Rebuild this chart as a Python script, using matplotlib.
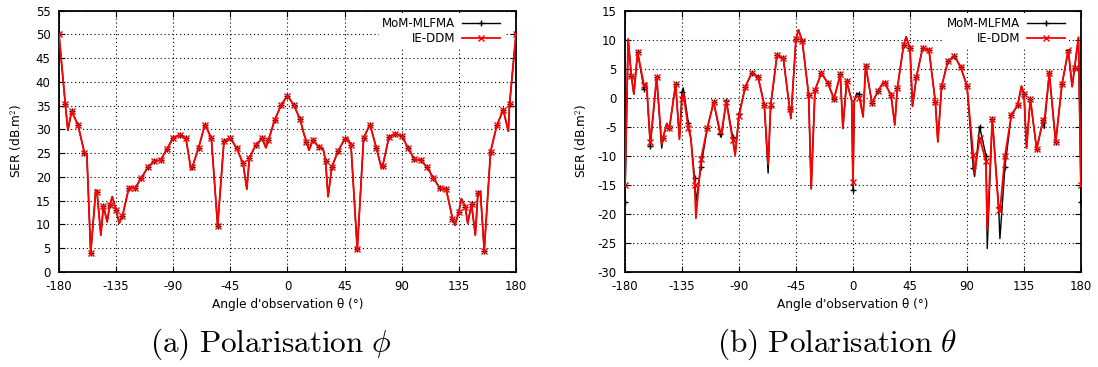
import numpy as np
import matplotlib
matplotlib.use("Agg")
import matplotlib.pyplot as plt

# Polarisation phi : angle (deg) and SER (dB.m2)
phi_angles = [-180, -175, -173, -170, -165, -160, -158, -155, -151, -150,
              -147, -145, -142, -140, -138, -135, -132.5, -130, -125, -120,
              -115, -110, -105, -100, -95, -90, -85, -80, -76, -75,
              -70, -65, -60, -55, -50, -45, -40, -35, -32, -30,
              -25, -20, -17, -15, -10, -5, 0, 5, 10, 13,
              15, 17, 20, 25, 28, 30, 32, 35, 40, 45,
              47, 50, 55, 60, 65, 70, 74, 75, 80, 85,
              90, 95, 100, 105, 110, 115, 120, 125, 130, 132,
              135, 137, 140, 142, 145, 148, 150, 152, 155, 160,
              165, 170, 174, 175, 180]
phi_mom = [50.0, 35.3, 29.8, 33.8, 30.9, 25.1, 24.6, 3.9, 17.2, 16.7,
           7.7, 13.8, 10.5, 14.0, 15.8, 12.9, 10.2, 11.7, 17.6, 17.6,
           19.8, 22.0, 23.3, 23.5, 25.8, 28.2, 28.8, 28.1, 21.5, 22.0,
           26.1, 31.0, 28.2, 9.7, 27.5, 28.2, 26.0, 22.8, 17.4, 23.9,
           26.7, 28.1, 26.1, 27.7, 32.0, 35.1, 37.1, 35.1, 32.1, 29.0,
           27.4, 25.6, 27.7, 26.2, 26.0, 23.4, 15.8, 22.1, 25.5, 27.9,
           28.2, 26.8, 4.7, 28.2, 31.0, 26.1, 21.9, 22.3, 28.4, 29.1,
           28.6, 26.1, 23.7, 23.5, 22.0, 19.7, 17.6, 17.4, 11.2, 9.8,
           12.6, 15.4, 13.7, 10.2, 14.2, 7.7, 16.5, 16.9, 4.4, 25.3,
           30.9, 34.1, 29.6, 35.4, 50.0]
phi_ddm = list(phi_mom)

# Polarisation theta
theta_angles = [-180, -177.5, -175, -173, -170, -165, -163, -160, -155, -151,
                -150, -147, -145, -140, -137, -135, -134, -130, -128, -125,
                -124, -120, -115, -110, -105, -104, -100, -95, -93, -90,
                -85, -80, -75, -70, -67, -65, -60, -55, -50, -49,
                -45, -43, -40, -35, -33, -30, -25, -20, -15, -10,
                -8, -5, -1, 0, 1, 3, 5, 8, 10, 15,
                20, 24, 25, 30, 33, 35, 40, 42, 45, 47,
                50, 55, 60, 65, 67, 70, 75, 80, 85, 90,
                95, 96, 100, 105, 106, 110, 115, 116, 120, 125,
                130, 133, 135, 137, 140, 145, 150, 151, 155, 160,
                165, 170, 173, 175, 178, 180]
theta_mom = [-17.9, 10.1, 3.8, 0.6, 7.8, 1.5, 2.3, -8.4, 3.5, -8.7,
             -7.0, -4.4, -5.3, 2.3, -7.0, 0.9, 1.7, -4.3, -7.0, -13.9,
             -18.0, -11.9, -5.2, -0.8, -6.2, -6.8, -0.5, -6.8, -9.9, -2.8,
             1.9, 4.2, 3.6, -1.2, -13.0, -1.5, 7.3, 6.8, -1.9, -3.6,
             10.2, 11.7, 9.7, 0.5, -15.7, 1.3, 4.2, 2.6, -0.2, 4.0,
             -5.3, 2.8, -0.5, -15.9, -0.5, 0.8, 0.6, -3.3, 5.5, -0.9,
             1.2, 2.7, 2.5, 0.5, -4.7, 1.6, 9.1, 10.5, 8.5, -1.5,
             3.5, 8.6, 8.2, -0.7, -7.6, 2.0, 6.3, 7.2, 5.3, 2.0,
             -12.2, -13.6, -5.0, -10.0, -26.0, -3.6, -18.9, -24.3, -11.9, -3.0,
             -1.3, 2.0, 0.7, -8.7, -0.2, -8.9, -3.9, -5.3, 4.2, -7.7,
             2.3, 8.2, 1.9, 5.2, 10.4, -17.9]
theta_ddm = [-15.1, 10.1, 3.8, 0.6, 7.8, 2.2, 2.5, -7.7, 3.5, -8.0,
             -6.9, -4.5, -5.3, 2.3, -7.2, -0.3, 0.8, -5.3, -7.0, -15.1,
             -20.8, -10.6, -5.2, -0.8, -5.7, -6.2, -0.7, -7.3, -9.9, -3.2,
             1.9, 4.2, 3.6, -1.3, -11.5, -1.2, 7.3, 6.8, -1.9, -3.6,
             10.2, 11.7, 9.7, 0.5, -15.7, 1.3, 4.2, 2.6, -0.2, 4.0,
             -5.3, 2.8, -0.5, -14.5, -0.5, 0.3, 0.0, -3.3, 5.5, -0.9,
             1.2, 2.7, 2.5, 0.5, -4.7, 1.6, 9.1, 10.5, 8.5, -1.5,
             3.5, 8.6, 8.2, -0.7, -7.6, 2.0, 6.3, 7.2, 5.3, 2.0,
             -9.9, -13.0, -6.9, -11.0, -22.8, -3.6, -19.3, -19.7, -10.0, -3.0,
             -1.3, 2.0, 0.7, -8.7, -0.2, -8.9, -3.9, -4.2, 4.2, -7.7,
             2.3, 8.2, 1.9, 5.2, 10.4, -15.1]

x_ticks = [-180, -135, -90, -45, 0, 45, 90, 135, 180]
captions = [r"$\mathrm{(a)\ Polarisation}\ \phi$",
            r"$\mathrm{(b)\ Polarisation}\ \theta$"]

plt.rcParams["mathtext.fontset"] = "cm"
plt.rcParams["font.family"] = "DejaVu Sans"
plt.rcParams["axes.unicode_minus"] = False

fig = plt.figure(figsize=(10.98, 3.67), dpi=100)
ax1 = fig.add_axes([0.0537, 0.2597, 0.4162, 0.7112])
ax2 = fig.add_axes([0.5692, 0.2597, 0.4153, 0.7112])


def draw(ax, angles, mom, ddm, ylim, ylab_x):
    # markers only on the 5 degree samples
    marks = [i for i, a in enumerate(angles) if a % 5 == 0]
    ax.plot(angles, mom, color="black", lw=1.0, marker="+", ms=5, mew=1.0,
            markevery=marks, label="MoM-MLFMA", zorder=3)
    ax.plot(angles, ddm, color="red", lw=1.3, marker="x", ms=4.5, mew=1.0,
            markevery=marks, label="IE-DDM", zorder=4)
    ax.set_xlim(-180, 180)
    ax.set_ylim(*ylim)
    ax.set_xticks(x_ticks)
    ax.set_yticks(np.arange(ylim[0], ylim[1] + 1, 5))
    ax.grid(True, color="black", linestyle=(0, (1, 2.5)), lw=0.8, zorder=1)
    ax.tick_params(direction="in", top=True, right=True, labelsize=8.5,
                   length=4, width=0.8, pad=6)
    for s in ax.spines.values():
        s.set_linewidth(1.3)
    ax.set_xlabel("Angle d'observation θ (°)", fontsize=8.7)
    ax.set_ylabel("SER (dB.m$^2$)", fontsize=8.7)
    ax.xaxis.set_label_coords(0.5, -0.1)
    ax.yaxis.set_label_coords(ylab_x, 0.5)
    leg = ax.legend(loc="upper right", bbox_to_anchor=(0.973, 0.99),
                    markerfirst=False, fontsize=8.5,
                    frameon=True, fancybox=False, borderaxespad=0.0,
                    borderpad=0.3, labelspacing=0.2, handlelength=3.2,
                    handletextpad=0.6, numpoints=1)
    leg.get_frame().set_edgecolor("none")
    leg.get_frame().set_facecolor("white")
    leg.get_frame().set_alpha(1.0)
    leg.set_zorder(10)


draw(ax1, phi_angles, phi_mom, phi_ddm, (0, 55), -0.077)
draw(ax2, theta_angles, theta_mom, theta_ddm, (-30, 15), -0.079)

fig.text(0.247, 0.062, captions[0], fontsize=22.5, ha="center", va="center")
fig.text(0.762, 0.062, captions[1], fontsize=22.5, ha="center", va="center")

fig.savefig("out.png", dpi=100)
